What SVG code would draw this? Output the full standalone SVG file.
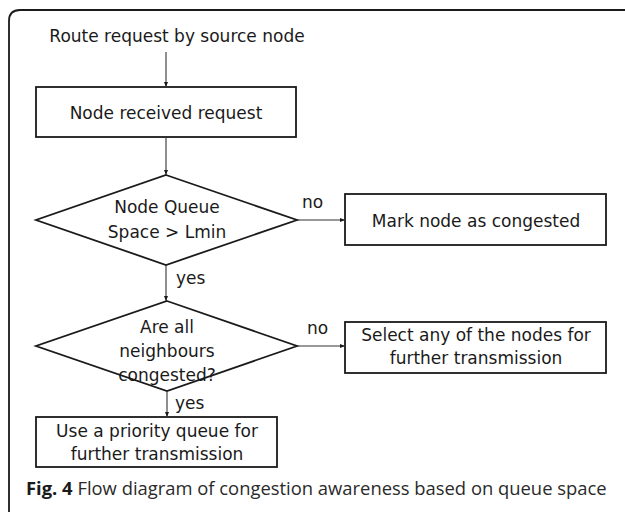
<svg xmlns="http://www.w3.org/2000/svg" width="625" height="512" viewBox="0 0 625 512">
  <style>
    .box { fill: #ffffff; stroke: #1a1a1a; stroke-width: 1.8; }
    .link { fill: none; stroke: #333333; stroke-width: 1.1; }
    .t { font-family: "DejaVu Sans", "Liberation Sans", sans-serif; font-size: 17px; fill: #1a1a1a; text-anchor: middle; }
    .lbl { font-family: "DejaVu Sans", "Liberation Sans", sans-serif; font-size: 17px; fill: #1a1a1a; }
    .cap { font-family: "Open Sans", "Liberation Sans", sans-serif; font-size: 18.4px; fill: #2a2a2a; }
  </style>
  <defs>
    <marker id="arrow" viewBox="0 0 10 10" refX="10" refY="5" markerWidth="5" markerHeight="5" orient="auto" markerUnits="userSpaceOnUse">
      <path d="M0,1 L10,5 L0,9 Z" fill="#1a1a1a"/>
    </marker>
  </defs>

  <rect x="0" y="0" width="625" height="512" fill="#ffffff"/>
  <!-- frame, open to the right and bottom -->
  <path d="M9,512 L9,21 Q9,10 20,10 L625,10" fill="none" stroke="#1a1a1a" stroke-width="1.8"/>

  <g id="start">
    <text class="t" x="177" y="42">Route request by source node</text>
  </g>

  <g id="received">
    <rect class="box" x="36" y="87" width="260" height="50"/>
    <text class="t" x="166" y="119">Node received request</text>
  </g>

  <g id="queue-check">
    <polygon class="box" points="166,175 297,220 166,265 36,220"/>
    <text class="t" x="167" y="213">Node Queue</text>
    <text class="t" x="167" y="238">Space &gt; Lmin</text>
  </g>

  <g id="congested">
    <rect class="box" x="345" y="194" width="261" height="51"/>
    <text class="t" x="476" y="227">Mark node as congested</text>
  </g>

  <g id="neighbour-check">
    <polygon class="box" points="167,301 297,346 167,391 36,346"/>
    <text class="t" x="167" y="333">Are all</text>
    <text class="t" x="167" y="357">neighbours</text>
    <text class="t" x="167" y="381">congested?</text>
  </g>

  <g id="select-any">
    <rect class="box" x="345" y="322" width="261" height="51"/>
    <text class="t" x="476" y="341">Select any of the nodes for</text>
    <text class="t" x="476" y="364">further transmission</text>
  </g>

  <g id="priority-queue">
    <rect class="box" x="36" y="417" width="241" height="50"/>
    <text class="t" x="157" y="437">Use a priority queue for</text>
    <text class="t" x="157" y="460">further transmission</text>
  </g>

  <g id="connectors">
    <line class="link" x1="166" y1="52" x2="166" y2="87" marker-end="url(#arrow)"/>
    <line class="link" x1="166" y1="137" x2="166" y2="175" marker-end="url(#arrow)"/>
    <line class="link" x1="297" y1="220" x2="345" y2="220" marker-end="url(#arrow)"/>
    <line class="link" x1="166" y1="265" x2="166" y2="301" marker-end="url(#arrow)"/>
    <line class="link" x1="297" y1="346" x2="345" y2="346" marker-end="url(#arrow)"/>
    <line class="link" x1="167" y1="391" x2="167" y2="417" marker-end="url(#arrow)"/>
    <text class="lbl" x="302" y="208">no</text>
    <text class="lbl" x="307" y="334">no</text>
    <text class="lbl" x="176" y="284">yes</text>
    <text class="lbl" x="175" y="409">yes</text>
  </g>

  <text class="cap" x="26" y="495"><tspan font-weight="bold" fill="#1a1a1a">Fig. 4</tspan> Flow diagram of congestion awareness based on queue space</text>
</svg>
